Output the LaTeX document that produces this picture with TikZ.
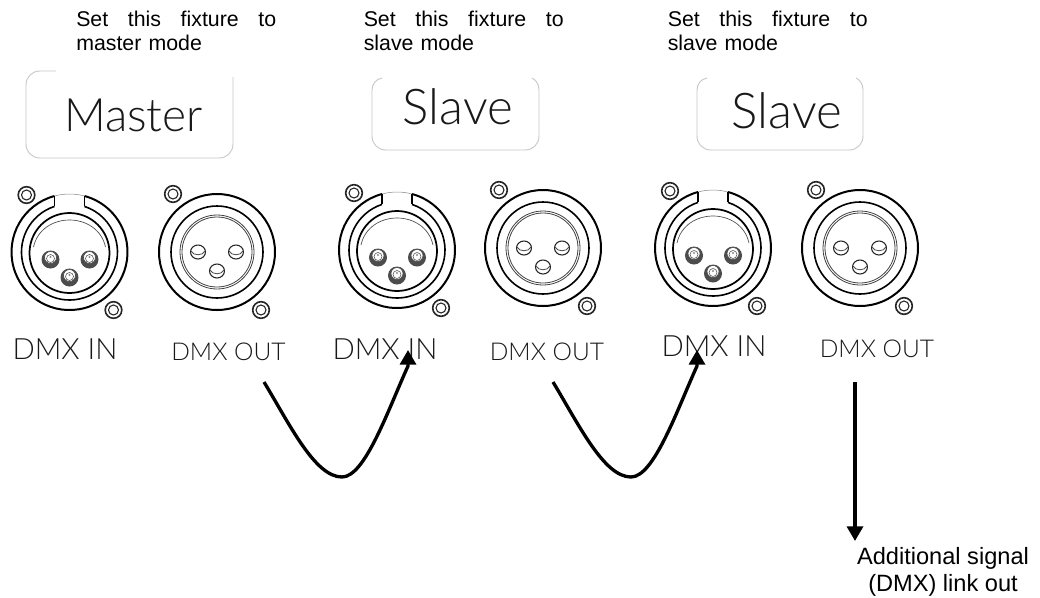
\documentclass[tikz,border=0pt]{standalone}
\usepackage{fontspec}
\setmainfont{Liberation Sans}
\newfontfamily\geol{Lato Light}
\usetikzlibrary{arrows.meta}
\tikzset{
  x=0.75pt,y=-0.75pt,
  panel/.style={draw=black!22,line width=0.7pt},
  note/.style={font=\fontsize{16}{18}\selectfont,inner sep=0pt},
  mode/.style={font=\geol\fontsize{#1}{#1}\selectfont,text=black!90,inner sep=0pt},
  dmxin/.style={font=\geol\fontsize{22}{22}\selectfont,text=black!90,inner sep=0pt},
  dmxout/.style={font=\geol\fontsize{18.4}{19}\selectfont,text=black!90,inner sep=0pt},
  link/.style={draw=black,line width=2.5pt,-{Triangle[length=11pt,width=12pt]}},
  screw/.pic={
    \draw[line width=1.2pt,black!85] (0,0) circle (8.3);
    \draw[line width=0.8pt,black!85] (0,0) circle (5);
  },
  pinm/.pic={
    \fill[black!70] (0,0.5) circle (9);
    \fill[white] (0,-1.5) circle (6);
    \draw[line width=0.5pt,black!70] (0,-1.5) circle (6);
    \draw[line width=0.4pt,black!70] (0,-0.5) circle (4);
    \fill[black!45] (0,-2) circle (1.1);
  },
  pinf/.pic={
    \draw[line width=0.8pt,black!85] (0,0) ellipse (7.5 and 7);
    \draw[line width=0.6pt,black!70] (-7,-1) .. controls (-5,4) and (5,4) .. (7,-1);
  },
  male/.pic={
    \draw[line width=1.5pt] (-15,-56) arc[start angle=105,end angle=435,radius=43.5pt];
    \draw[line width=0.4pt,black!45] (-15,-56) arc[start angle=105,end angle=75,radius=43.5pt];
    \draw[line width=1.2pt] (-15,-45.6) arc[start angle=108.2,end angle=431.8,radius=36pt];
    \draw[line width=1.2pt] (-15,-56) -- (-15,-45.6) (15,-56) -- (15,-45.6);
    \draw[line width=1.3pt] (0,1) circle (40);
    \draw[line width=0.5pt,black!70] (-36,-5) .. controls (-28,-41) and (28,-41) .. (36,-5);
    \pic at (-19,7) {pinm};
    \pic at (20,7) {pinm};
    \pic at (0,25) {pinm};
    \pic at (-43,-57) {screw};
    \pic at (44,58) {screw};
  },
  female/.pic={
    \draw[line width=1.5pt] (0,0) circle (58);
    \draw[line width=1.2pt] (0,0) circle (46);
    \draw[line width=0.6pt,black!75] (0,0) circle (37);
    \draw[line width=0.6pt,black!75] (0,0) circle (35);
    \pic at (-19,0) {pinf};
    \pic at (19,0) {pinf};
    \pic at (0,19) {pinf};
    \pic at (-44,-58) {screw};
    \pic at (44,58) {screw};
  }
}
\begin{document}
\begin{tikzpicture}
\useasboundingbox (0,0) rectangle (1040,597);
% notes
\node[note,anchor=north west,text width=150pt,align=left] (n1) at (76,11) {Set\hfill this\hfill fixture\hfill to\\master mode};
\node[note,anchor=north west,text width=150pt,align=left] (n2) at (363.5,11) {Set\hfill this\hfill fixture\hfill to\\slave mode};
\node[note,anchor=north west,text width=150pt,align=left] (n3) at (667.5,11) {Set\hfill this\hfill fixture\hfill to\\slave mode};
% panels
\draw[panel] (56,71) -- (40,71) .. controls (32,71) and (26,77) .. (26,85) -- (26,144) .. controls (26,152) and (32,158) .. (40,158) -- (219,158) .. controls (227,158) and (233,152) .. (233,144) -- (233,77);
\draw[panel] (382,78) .. controls (376,79) and (372,84) .. (372,90) -- (372,136) .. controls (372,144) and (378,150) .. (386,150) -- (525,150) .. controls (533,150) and (539,144) .. (539,136) -- (539,90) .. controls (539,84) and (536,80) .. (532,78);
\draw[panel] (707,78) .. controls (701,79) and (697,84) .. (697,90) -- (697,136) .. controls (697,144) and (703,150) .. (711,150) -- (849,150) .. controls (857,150) and (863,144) .. (863,136) -- (863,90) .. controls (863,84) and (860,80) .. (856,78);
\node[mode=34.5] (m1) at (133.5,115) {Master};
\node[mode=37] (m2) at (458,107) {Slave};
\node[mode=37] (m3) at (787,111) {Slave};
% connectors
\pic at (69.5,252) {male};
\pic at (217,252) {female};
\pic at (397,250) {male};
\pic at (543,248) {female};
\pic at (713,248) {male};
\pic at (860,248) {female};
% labels
\node[dmxin] (i1) at (65,349) {DMX IN};
\node[dmxout] (o1) at (228.5,352) {DMX OUT};
\node[dmxin] (i2) at (385,349) {DMX IN};
\node[dmxout] (o2) at (547,352) {DMX OUT};
\node[dmxin] (i3) at (714,346) {DMX IN};
\node[dmxout] (o3) at (877,349) {DMX OUT};
% links
\coordinate (a1) at (264,382);
\coordinate (a3) at (408,366);
\coordinate (a2) at (408,350);
\coordinate (b1) at (553,382);
\coordinate (b3) at (697,366);
\coordinate (b2) at (697,350);
\coordinate (c1) at (855,382);
\coordinate (c2) at (855,541);
\draw[link] (a1) .. controls (290,425) and (315,477) .. (342,477) .. controls (365,477) and (388,410) .. (a3) -- (a2);
\draw[link] (b1) .. controls (579,425) and (604,477) .. (631,477) .. controls (654,477) and (677,410) .. (b3) -- (b2);
\draw[link] (c1) -- (c2);
\node[note,align=center,font=\fontsize{17.7}{20}\selectfont] (e) at (943,572) {Additional signal\\(DMX) link out};
\end{tikzpicture}
\end{document}
